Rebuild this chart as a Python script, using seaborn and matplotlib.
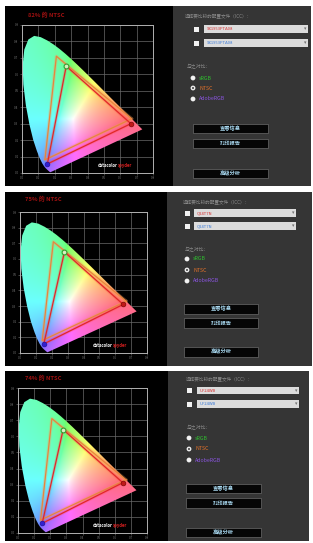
import numpy as np
import pandas as pd
import matplotlib
matplotlib.use("Agg")
import matplotlib.pyplot as plt
import seaborn as sns
from matplotlib.patches import Polygon, Rectangle, Circle

sns.set_theme(style="dark")
plt.rcParams['font.family'] = ['Noto Sans CJK SC', 'DejaVu Sans']

# ---------------- data ----------------
titles = ["82% 的 NTSC", "75% 的 NTSC", "74% 的 NTSC"]
profile_names = ["SX1953PTA08", "Q24T7N", "UF24WB"]
header_text = "选择要比较的配置文件（ICC）："
compare_label = "与之对比："
compare_options = ["sRGB", "NTSC", "AdobeRGB"]
option_colors = ["#2fbf2f", "#e0702a", "#8a55e0"]
button_labels = ["查看信息", "打印报告", "高级分析"]

# CIE 1931 spectral locus (x, y)
locus_x = [0.1741, 0.1738, 0.1733, 0.1726, 0.1714, 0.1689, 0.1644, 0.1566, 0.1440, 0.1355,
           0.1241, 0.1096, 0.0913, 0.0687, 0.0454, 0.0235, 0.0082, 0.0039, 0.0139, 0.0389,
           0.0743, 0.1142, 0.1547, 0.1929, 0.2296, 0.2658, 0.3016, 0.3373, 0.3731, 0.4087,
           0.4441, 0.4788, 0.5125, 0.5448, 0.5752, 0.6029, 0.6270, 0.6658, 0.6915, 0.7079,
           0.7190, 0.7260, 0.7300, 0.7334, 0.7347]
locus_y = [0.0050, 0.0049, 0.0048, 0.0048, 0.0051, 0.0069, 0.0109, 0.0177, 0.0297, 0.0399,
           0.0578, 0.0868, 0.1327, 0.2007, 0.2950, 0.4127, 0.5384, 0.6548, 0.7502, 0.8120,
           0.8338, 0.8262, 0.8059, 0.7816, 0.7543, 0.7243, 0.6923, 0.6589, 0.6245, 0.5896,
           0.5547, 0.5202, 0.4866, 0.4544, 0.4242, 0.3965, 0.3725, 0.3340, 0.3083, 0.2920,
           0.2809, 0.2740, 0.2700, 0.2666, 0.2653]

ntsc_x = [0.67, 0.21, 0.14]
ntsc_y = [0.33, 0.71, 0.08]

display_x = [[0.665, 0.270, 0.155], [0.650, 0.280, 0.150], [0.650, 0.280, 0.150]]
display_y = [[0.300, 0.650, 0.055], [0.310, 0.645, 0.058], [0.312, 0.642, 0.060]]

x_ticks = [0.0, 0.1, 0.2, 0.3, 0.4, 0.5, 0.6, 0.7, 0.8]
y_ticks = [0.0, 0.1, 0.2, 0.3, 0.4, 0.5, 0.6, 0.7, 0.8, 0.9]

# ---------------- layout (pixels) ----------------
W, H = 313, 543
panels = [
    dict(top=6, bot=186, black=(5, 173), gray=(173, 311), ax=(22, 25, 153, 173),
         title=(28, 15), header=(185, 17), cb_x=196, dd=(204, 308), dd_y=[(25, 33), (39, 47)],
         label=(187, 67), radio_x=193, radio_y=[78, 88, 99], btn=(193, 268),
         btn_y=[(124, 133), (139, 148), (169, 178)]),
    dict(top=192, bot=366, black=(5, 167), gray=(167, 312), ax=(20, 212, 147, 353),
         title=(25, 199), header=(183, 203), cb_x=187, dd=(194, 296), dd_y=[(209, 217), (222, 230)],
         label=(185, 250), radio_x=187, radio_y=[259, 270, 281], btn=(184, 258),
         btn_y=[(304, 314), (318, 328), (347, 357)]),
    dict(top=371, bot=541, black=(5, 168), gray=(168, 309), ax=(18, 388, 147, 533),
         title=(25, 378), header=(186, 380), cb_x=189, dd=(197, 299), dd_y=[(387, 394), (400, 408)],
         label=(187, 428), radio_x=189, radio_y=[438, 449, 460], btn=(186, 261),
         btn_y=[(484, 493), (498, 508), (528, 537)]),
]

fig = plt.figure(figsize=(W / 100, H / 100), dpi=100)
fig.patch.set_facecolor("white")

bg = fig.add_axes([0, 0, 1, 1])
bg.set_xlim(0, W)
bg.set_ylim(H, 0)
bg.axis("off")

# chromaticity fill image (pastel)
gx, gy = np.meshgrid(np.linspace(0.0, 0.8, 320), np.linspace(0.0, 0.9, 360))
gyc = np.maximum(gy, 1e-3)
X = gx / gyc
Y = np.ones_like(gx)
Z = (1 - gx - gy) / gyc
M = np.array([[3.2406, -1.5372, -0.4986],
              [-0.9689, 1.8758, 0.0415],
              [0.0557, -0.2040, 1.0570]])
rgb = np.stack([M[i, 0] * X + M[i, 1] * Y + M[i, 2] * Z for i in range(3)], axis=-1)
rgb = rgb - np.minimum(rgb.min(axis=-1, keepdims=True), 0)
rgb = rgb / np.maximum(rgb.max(axis=-1, keepdims=True), 1e-6)
rgb = np.clip(rgb, 0, 1) ** (1 / 1.6)
rgb = 0.58 * rgb + 0.42
rgb = np.clip(rgb, 0, 1)

for i, p in enumerate(panels):
    top, bot = p["top"], p["bot"]
    # backgrounds
    bg.add_patch(Rectangle((p["black"][0], top), p["black"][1] - p["black"][0], bot - top,
                           color="black", lw=0))
    bg.add_patch(Rectangle((p["gray"][0], top), p["gray"][1] - p["gray"][0], bot - top,
                           color="#353535", lw=0))
    # right side controls
    bg.text(p["header"][0], p["header"][1], header_text, color="#8a8a8a", fontsize=3.3,
            va="center", ha="left")
    for k, (y0, y1) in enumerate(p["dd_y"]):
        yc = (y0 + y1) / 2
        bg.add_patch(Rectangle((p["cb_x"] - 2.5, yc - 2.5), 5, 5, color="#f2f2f2", lw=0))
        bg.add_patch(Rectangle((p["dd"][0], y0), p["dd"][1] - p["dd"][0], y1 - y0,
                               color="#dcdcdc", lw=0))
        bg.text(p["dd"][0] + 3, yc, profile_names[i], fontsize=3.0,
                color="#d83030" if k == 0 else "#3a7ad8", va="center", ha="left")
        bg.text(p["dd"][1] - 2, yc, "▾", fontsize=3.5, color="#707070", va="center", ha="right",
                family=["DejaVu Sans"])
    bg.text(p["label"][0], p["label"][1], compare_label, color="#8a8a8a", fontsize=3.5,
            va="center", ha="left")
    for k, yy in enumerate(p["radio_y"]):
        bg.add_patch(Circle((p["radio_x"], yy), 2.4, color="#f2f2f2", lw=0))
        if k == 1:
            bg.add_patch(Circle((p["radio_x"], yy), 1.1, color="#555555", lw=0))
        bg.text(p["radio_x"] + 6, yy, compare_options[k], color=option_colors[k], fontsize=3.8,
                va="center", ha="left")
    for k, (y0, y1) in enumerate(p["btn_y"]):
        bx0, bx1 = p["btn"]
        bg.add_patch(Rectangle((bx0, y0), bx1 - bx0, y1 - y0, facecolor="#050505",
                               edgecolor="#6a6a6a", lw=0.5))
        bg.text((bx0 + bx1) / 2, (y0 + y1) / 2, button_labels[k], color="#a8d8f0",
                fontsize=3.8, va="center", ha="center", fontweight="bold")
    bg.text(p["title"][0], p["title"][1], titles[i], color="#a01010", fontsize=4.2,
            va="center", ha="left", fontweight="bold")

    # chart axes
    x0, y0, x1, y1 = p["ax"]
    ax = fig.add_axes([x0 / W, 1 - y1 / H, (x1 - x0) / W, (y1 - y0) / H])
    ax.set_facecolor("black")
    ax.set_xlim(0, 0.8)
    ax.set_ylim(0, 0.9)
    ax.set_xticks(x_ticks)
    ax.set_yticks(y_ticks)
    ax.set_xticklabels([f"{t:.1f}" for t in x_ticks])
    ax.set_yticklabels([f"{t:.1f}" for t in y_ticks])
    ax.tick_params(colors="#777777", labelsize=2.2, length=1.5, width=0.4, pad=1,
                   bottom=True, left=True)
    ax.grid(True, color="#6a6a6a", lw=0.5)
    for s in ax.spines.values():
        s.set_color("#b0b0b0")
        s.set_linewidth(0.7)

    im = ax.imshow(rgb, extent=[0, 0.8, 0, 0.9], origin="lower", aspect="auto",
                   interpolation="bilinear", zorder=2)
    poly = Polygon(np.column_stack([locus_x, locus_y]), closed=True, transform=ax.transData)
    im.set_clip_path(poly)

    # NTSC triangle
    ntsc_df = pd.DataFrame({"x": ntsc_x + ntsc_x[:1], "y": ntsc_y + ntsc_y[:1]})
    sns.lineplot(data=ntsc_df, x="x", y="y", sort=False, estimator=None, ax=ax,
                 color="#f0a060", lw=2.4, alpha=0.35, zorder=3)
    sns.lineplot(data=ntsc_df, x="x", y="y", sort=False, estimator=None, ax=ax,
                 color="#e8843c", lw=0.9, zorder=4)
    # display triangle
    dx, dy = display_x[i], display_y[i]
    disp_df = pd.DataFrame({"x": dx + dx[:1], "y": dy + dy[:1]})
    sns.lineplot(data=disp_df, x="x", y="y", sort=False, estimator=None, ax=ax,
                 color="#ff5050", lw=2.2, alpha=0.3, zorder=5)
    sns.lineplot(data=disp_df, x="x", y="y", sort=False, estimator=None, ax=ax,
                 color="#e02828", lw=0.9, zorder=6)
    # vertex markers
    sns.scatterplot(x=[dx[0]], y=[dy[0]], ax=ax, s=12, color="#c01818", edgecolor="#700000",
                    linewidth=0.4, zorder=7)
    sns.scatterplot(x=[dx[1]], y=[dy[1]], ax=ax, s=12, color="#d8f0c0", edgecolor="#30a030",
                    linewidth=0.8, zorder=7)
    sns.scatterplot(x=[dx[2]], y=[dy[2]], ax=ax, s=12, color="#3020d0", edgecolor="#200890",
                    linewidth=0.4, zorder=7)
    ax.set_xlabel("")
    ax.set_ylabel("")

    # logo
    ax.text(0.73, 0.035, "datacolor", color="white", fontsize=3.0, fontweight="bold",
            transform=ax.transAxes, ha="right", va="bottom", zorder=8)
    ax.text(0.735, 0.035, "spyder", color="#e02020", fontsize=3.0, fontweight="bold",
            transform=ax.transAxes, ha="left", va="bottom", zorder=8)

fig.savefig("out.png", dpi=100, facecolor="white")
